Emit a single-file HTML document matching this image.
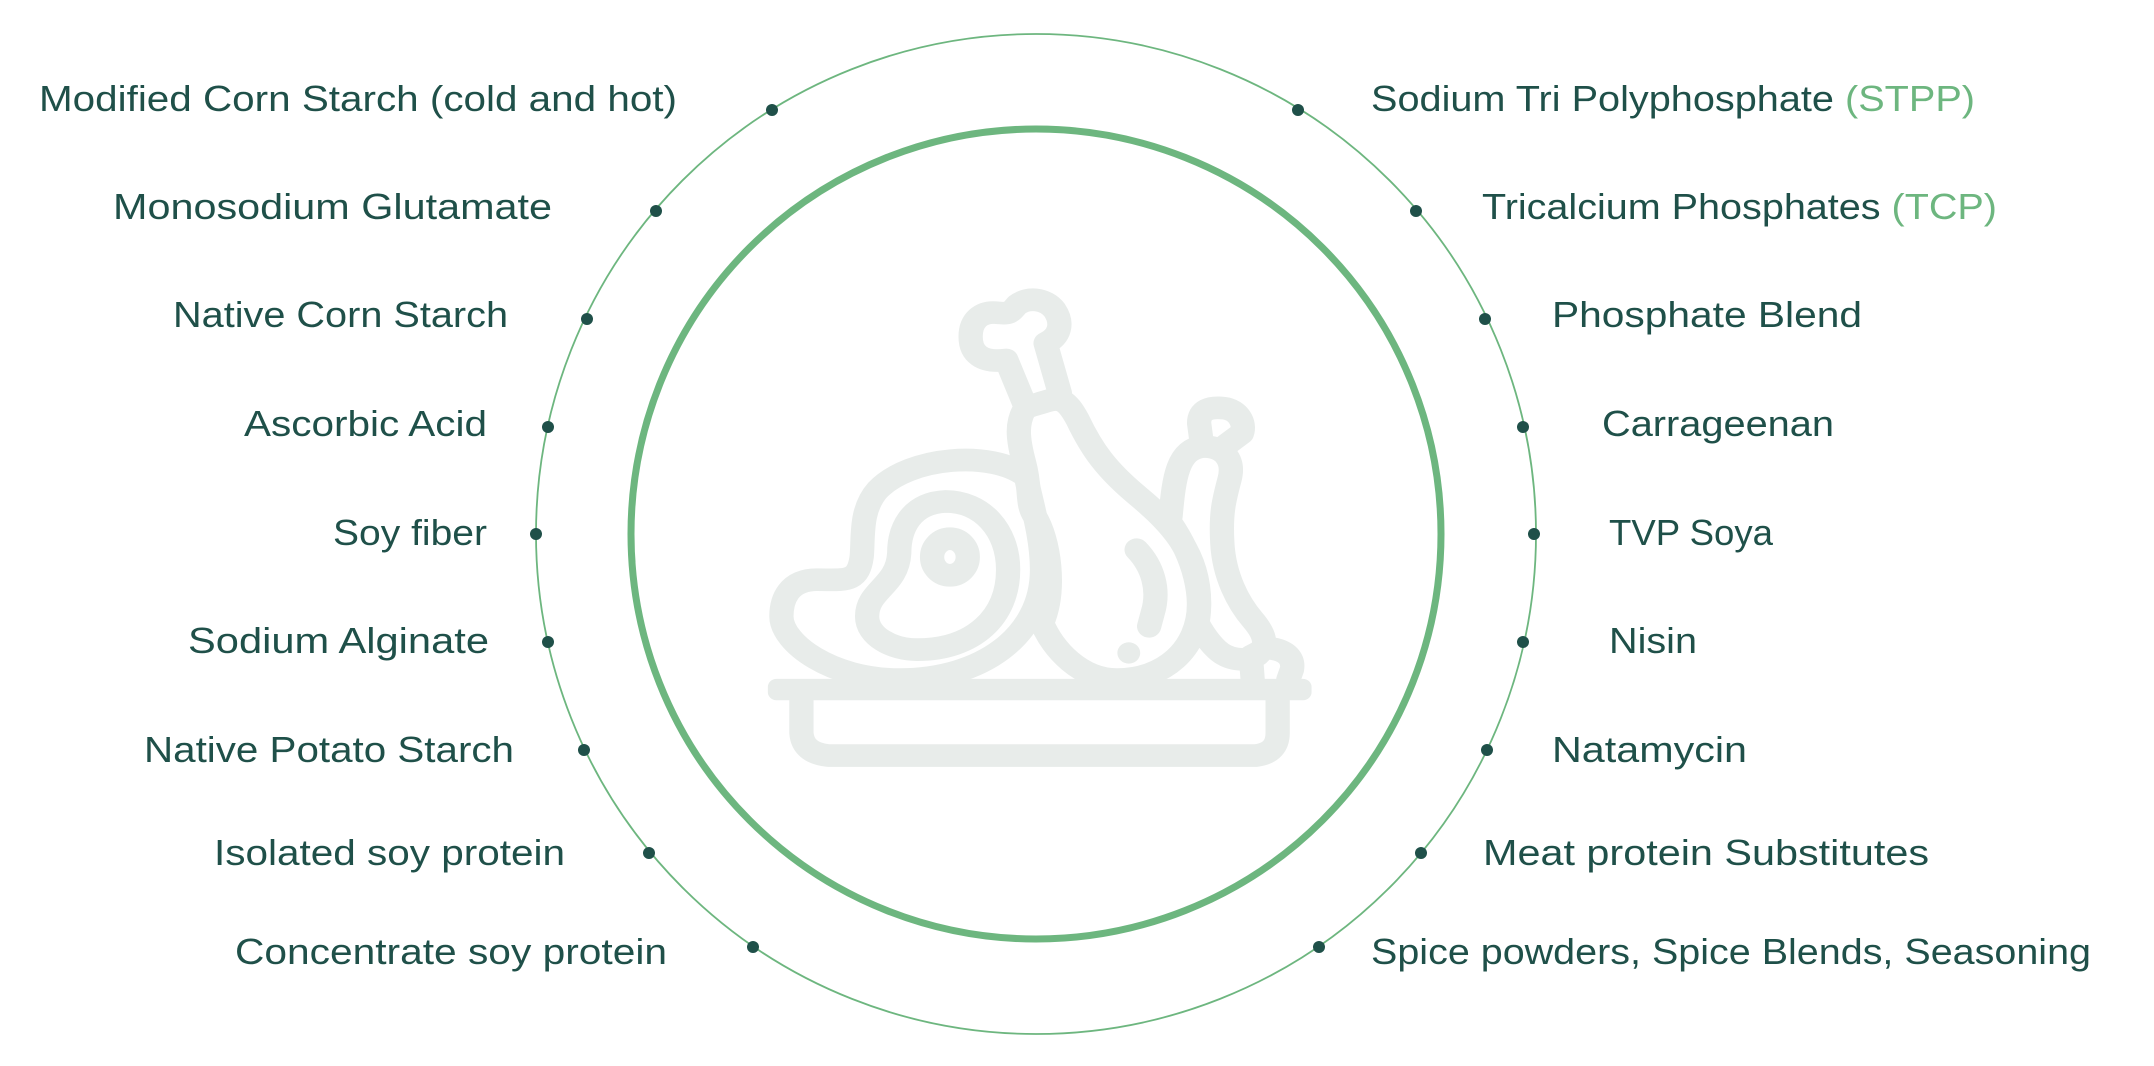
<!DOCTYPE html>
<html><head><meta charset="utf-8"><style>
html,body{margin:0;padding:0;background:#fff;width:2154px;height:1066px;overflow:hidden}
svg{display:block}
text{font-family:"Liberation Sans",sans-serif;font-size:36px;fill:#1f5049}
</style></head><body>
<svg width="2154" height="1066" viewBox="0 0 2154 1066" xmlns="http://www.w3.org/2000/svg">
<circle cx="1036" cy="534" r="500" fill="none" stroke="#6db67f" stroke-width="1.8"/>
<circle cx="1036" cy="534" r="405" fill="none" stroke="#6db67f" stroke-width="7"/>
<g fill="#1f5049">
<circle cx="772" cy="110" r="6"/><circle cx="656" cy="211" r="6"/><circle cx="587" cy="319" r="6"/><circle cx="548" cy="427" r="6"/><circle cx="536" cy="534" r="6"/><circle cx="548" cy="642" r="6"/><circle cx="584" cy="750" r="6"/><circle cx="649" cy="853" r="6"/><circle cx="753" cy="947" r="6"/>
<circle cx="1298" cy="110" r="6"/><circle cx="1416" cy="211" r="6"/><circle cx="1485" cy="319" r="6"/><circle cx="1523" cy="427" r="6"/><circle cx="1534" cy="534" r="6"/><circle cx="1523" cy="642" r="6"/><circle cx="1487" cy="750" r="6"/><circle cx="1421" cy="853" r="6"/><circle cx="1319" cy="947" r="6"/>
</g>
<g>
<text x="39" y="111" textLength="638" lengthAdjust="spacingAndGlyphs">Modified Corn Starch (cold and hot)</text>
<text x="113" y="219" textLength="439" lengthAdjust="spacingAndGlyphs">Monosodium Glutamate</text>
<text x="173" y="327" textLength="335" lengthAdjust="spacingAndGlyphs">Native Corn Starch</text>
<text x="244" y="436" textLength="243" lengthAdjust="spacingAndGlyphs">Ascorbic Acid</text>
<text x="333" y="545" textLength="154" lengthAdjust="spacingAndGlyphs">Soy fiber</text>
<text x="188" y="653" textLength="301" lengthAdjust="spacingAndGlyphs">Sodium Alginate</text>
<text x="144" y="762" textLength="370" lengthAdjust="spacingAndGlyphs">Native Potato Starch</text>
<text x="214" y="865" textLength="351" lengthAdjust="spacingAndGlyphs">Isolated soy protein</text>
<text x="235" y="964" textLength="432" lengthAdjust="spacingAndGlyphs">Concentrate soy protein</text>
<text x="1371" y="111" textLength="604" lengthAdjust="spacingAndGlyphs">Sodium Tri Polyphosphate <tspan fill="#6db67f">(STPP)</tspan></text>
<text x="1482" y="219" textLength="515" lengthAdjust="spacingAndGlyphs">Tricalcium Phosphates <tspan fill="#6db67f">(TCP)</tspan></text>
<text x="1552" y="327" textLength="310" lengthAdjust="spacingAndGlyphs">Phosphate Blend</text>
<text x="1602" y="436" textLength="232" lengthAdjust="spacingAndGlyphs">Carrageenan</text>
<text x="1609" y="545" textLength="164" lengthAdjust="spacingAndGlyphs">TVP Soya</text>
<text x="1609" y="653" textLength="88" lengthAdjust="spacingAndGlyphs">Nisin</text>
<text x="1552" y="762" textLength="195" lengthAdjust="spacingAndGlyphs">Natamycin</text>
<text x="1483" y="865" textLength="446" lengthAdjust="spacingAndGlyphs">Meat protein Substitutes</text>
<text x="1371" y="964" textLength="720" lengthAdjust="spacingAndGlyphs">Spice powders, Spice Blends, Seasoning</text>
</g>
<g transform="translate(760,270) scale(0.357,0.333)" fill="none" stroke="#e8ecea" stroke-width="68" stroke-linecap="round" stroke-linejoin="round">
<rect x="22" y="1228" width="1523" height="64" rx="24" fill="#e8ecea" stroke="none"/>
<path d="M116 1292 V1390 Q120 1450 190 1458 H1390 Q1450 1450 1450 1390 V1292"/>
<path d="M745 620 C650 540 420 560 330 660 C280 720 290 800 285 860 C275 940 240 930 160 930 C80 930 60 990 60 1040 C60 1120 200 1230 390 1230 C620 1230 790 1100 790 900 C790 800 760 700 745 620"/>
<path d="M520 695 C420 700 390 780 390 850 C385 950 300 960 300 1040 C300 1100 370 1140 440 1140 C600 1140 695 1040 695 900 C695 780 620 695 520 695 Z"/>
<ellipse cx="532" cy="862" rx="50" ry="55"/>
<path d="M740 400 L690 270 C620 280 590 250 590 200 C590 150 620 125 660 128 C700 132 700 130 720 105 C750 80 800 85 825 120 C850 160 840 200 800 220 L840 370"/>
<path d="M740 420 C720 460 720 500 740 580 C760 660 745 700 770 740 C810 810 830 960 790 1060 C820 1140 900 1230 1000 1230 C1130 1230 1230 1140 1230 1000 C1230 850 1150 760 1060 680 C970 600 930 540 890 450 C860 390 840 380 800 395 C770 405 745 410 740 420 Z"/>
<path d="M1055 840 C1100 890 1120 960 1100 1030 L1090 1070"/>
<circle cx="1033" cy="1150" r="32" fill="#e8ecea" stroke="none"/>
<path d="M1235 500 L1230 460 C1230 420 1260 410 1300 415 C1340 420 1360 460 1350 490 L1300 530"/>
<path d="M1150 740 C1160 620 1170 540 1240 530 C1300 530 1330 570 1315 630 C1300 690 1290 730 1295 820 C1300 920 1340 1000 1380 1050 C1420 1100 1420 1130 1395 1155 C1360 1180 1310 1170 1280 1140 C1260 1120 1240 1090 1225 1060 C1240 980 1220 870 1150 760"/>
<path d="M1380 1230 L1375 1160 L1420 1135 C1480 1140 1495 1170 1490 1200 L1480 1230"/>
</g>
</svg>
</body></html>
